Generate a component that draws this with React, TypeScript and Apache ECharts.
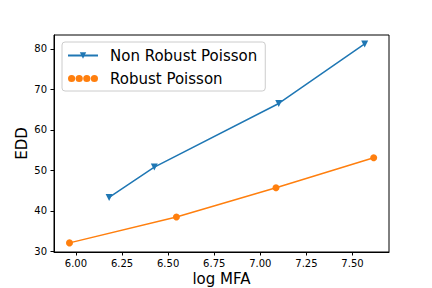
import React, { useEffect, useRef } from "react";
import * as echarts from "echarts";

const seriesNames = ["Non Robust Poisson", "Robust Poisson"];
const logMfaNonRobust = [6.18, 6.425, 7.1, 7.566];
const eddNonRobust = [43.3, 50.8, 66.5, 81.2];
const logMfaRobust = [5.965, 6.545, 7.085, 7.615];
const eddRobust = [32.1, 38.5, 45.7, 53.1];
const xTicks = [6.0, 6.25, 6.5, 6.75, 7.0, 7.25, 7.5];
const yTicks = [30, 40, 50, 60, 70, 80];
const xLabel = "log MFA";
const yLabel = "EDD";

const FONT = "DejaVu Sans";
const dotsIcon =
  "path://M0,3.6a3.6,3.6 0 1,0 7.2,0a3.6,3.6 0 1,0 -7.2,0Z" +
  "M7.6,3.6a3.6,3.6 0 1,0 7.2,0a3.6,3.6 0 1,0 -7.2,0Z" +
  "M15.2,3.6a3.6,3.6 0 1,0 7.2,0a3.6,3.6 0 1,0 -7.2,0Z" +
  "M22.8,3.6a3.6,3.6 0 1,0 7.2,0a3.6,3.6 0 1,0 -7.2,0Z";

export default function App() {
  const ref = useRef<HTMLDivElement>(null);
  useEffect(() => {
    if (!ref.current) return;
    const chart = echarts.init(ref.current, undefined, { renderer: "svg" });
    const axisCommon = {
      type: "value" as const,
      splitLine: { show: false },
      axisLine: { show: true, onZero: false, lineStyle: { color: "#000", width: 1 } },
    };
    chart.setOption({
      animation: false,
      backgroundColor: "#fff",
      grid: {
        left: 54,
        right: 43,
        top: 35,
        bottom: 36,
        containLabel: false,
        outerBoundsMode: "none",
        show: true,
        borderColor: "#000",
        borderWidth: 1,
      },
      xAxis: {
        ...axisCommon,
        min: 5.881,
        max: 7.698,
        name: xLabel,
        nameLocation: "middle",
        nameGap: 19,
        nameMoveOverlap: false,
        nameTextStyle: { fontFamily: FONT, fontSize: 15, color: "#000" },
        axisTick: { show: true, length: 3.5, customValues: xTicks, lineStyle: { color: "#000" } },
        axisLabel: {
          customValues: xTicks,
          formatter: (v: number) => v.toFixed(2),
          fontFamily: FONT,
          fontSize: 10,
          color: "#000",
          margin: 6,
        },
      },
      yAxis: {
        ...axisCommon,
        min: 29.85,
        max: 83.4,
        name: yLabel,
        nameLocation: "middle",
        nameGap: 25,
        nameRotate: 90,
        nameMoveOverlap: false,
        nameTextStyle: { fontFamily: FONT, fontSize: 15, color: "#000" },
        axisTick: { show: true, length: 3.5, customValues: yTicks, lineStyle: { color: "#000" } },
        axisLabel: {
          customValues: yTicks,
          fontFamily: FONT,
          fontSize: 10,
          color: "#000",
          margin: 7,
        },
      },
      legend: {
        orient: "vertical",
        left: 62,
        top: 42,
        padding: [6, 8, 5, 5],
        itemGap: 8,
        itemWidth: 30,
        itemHeight: 8,
        borderColor: "#cccccc",
        borderWidth: 1,
        borderRadius: 3,
        backgroundColor: "rgba(255,255,255,0.8)",
        textStyle: { fontFamily: FONT, fontSize: 15, color: "#000", padding: [0, 0, 0, 7] },
        data: [{ name: seriesNames[0] }, { name: seriesNames[1], icon: dotsIcon }],
      },
      series: [
        {
          name: seriesNames[0],
          type: "line",
          data: logMfaNonRobust.map((x, i) => [x, eddNonRobust[i]]),
          color: "#1f77b4",
          symbol: "triangle",
          symbolRotate: 180,
          symbolSize: 7,
          lineStyle: { width: 1.5 },
        },
        {
          name: seriesNames[1],
          type: "line",
          data: logMfaRobust.map((x, i) => [x, eddRobust[i]]),
          color: "#ff7f0e",
          symbol: "circle",
          symbolSize: 7,
          lineStyle: { width: 1.5 },
        },
      ],
    });
    return () => chart.dispose();
  }, []);
  return (
    <div
      ref={ref}
      style={{ position: "fixed", left: 0, top: 0, width: 432, height: 288, background: "#fff" }}
    />
  );
}
